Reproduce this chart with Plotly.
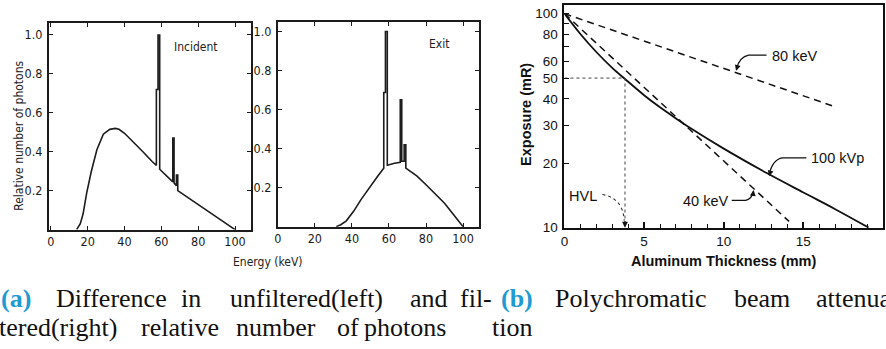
import plotly.graph_objects as go

# ---------------- data ----------------
energy_incident = [14, 16, 17.5, 19.5, 22, 25, 28.5, 32, 35, 37, 40, 45, 50, 55, 57.3,
                   57.3, 58.2, 58.2, 59.1, 59.1, 62, 66.2, 66.2, 66.9, 66.9, 68.2, 68.2,
                   68.9, 68.9, 75, 80, 85, 90, 95, 100]
rel_incident = [0, 0.03, 0.08, 0.19, 0.30, 0.41, 0.49, 0.515, 0.52, 0.515, 0.495, 0.45, 0.40, 0.35, 0.33,
                0.72, 0.72, 1.0, 1.0, 0.31, 0.285, 0.245, 0.47, 0.47, 0.24, 0.225, 0.28,
                0.28, 0.20, 0.16, 0.128, 0.095, 0.063, 0.031, 0]

energy_exit = [31.5, 34, 37, 41, 45, 50, 54, 57.2, 57.2, 58.1, 58.1, 59.1, 59.1, 63, 66.1,
               66.1, 66.9, 66.9, 68.2, 68.2, 69.1, 69.1, 75, 80, 85, 90, 95, 100]
rel_exit = [0, 0.01, 0.03, 0.08, 0.14, 0.21, 0.26, 0.30, 0.687, 0.687, 1.0, 1.0, 0.315, 0.325, 0.33,
            0.65, 0.65, 0.335, 0.335, 0.42, 0.42, 0.30, 0.26, 0.215, 0.17, 0.12, 0.06, 0]

spectrum_xticks = [0, 20, 40, 60, 80, 100]
spectrum_yticks = [0.2, 0.4, 0.6, 0.8, 1.0]

thickness_100kvp = [0, 1, 2, 3, 3.8, 5, 6, 7, 8, 10, 12.7, 15, 17, 19.1]
exposure_100kvp = [100, 80.3, 66.2, 55.8, 49.5, 41.6, 36.5, 32.4, 28.9, 23.4, 18.0, 14.6, 12.2, 10.0]
thickness_40kev = [0, 14.1]
exposure_40kev = [100, 10.7]
thickness_80kev = [0, 17.1]
exposure_80kev = [100, 36.5]
hvl_mm = 3.8
half_exposure = 50
exposure_ticks = [10, 20, 30, 40, 50, 60, 70, 80, 90, 100]
exposure_ticktext = ["10", "20", "30", "40", "50", "60", "", "80", "", "100"]
thickness_ticks = [0, 5, 10, 15, 20]

# ---------------- helpers ----------------
W, H = 886, 349
def px(x):
    return x / W
def py(y):
    return 1 - y / H

INK = "#1c1c1c"
SCAN_FONT = "Liberation Sans Narrow, DejaVu Sans Condensed, sans-serif"
ARIAL = "Liberation Sans, Arial, sans-serif"
SERIF = "Liberation Serif, Times New Roman, serif"
BLUE = "#1f9ad3"

fig = go.Figure()

fig.add_trace(go.Scatter(x=energy_incident, y=rel_incident, mode="lines",
                         line=dict(color=INK, width=1.6), xaxis="x", yaxis="y",
                         showlegend=False, hoverinfo="skip"))
fig.add_trace(go.Scatter(x=energy_exit, y=rel_exit, mode="lines",
                         line=dict(color=INK, width=1.6), xaxis="x2", yaxis="y2",
                         showlegend=False, hoverinfo="skip"))
fig.add_trace(go.Scatter(x=thickness_100kvp, y=exposure_100kvp, mode="lines",
                         line=dict(color="#111", width=1.8, shape="spline"),
                         xaxis="x3", yaxis="y3", showlegend=False, hoverinfo="skip"))
fig.add_trace(go.Scatter(x=thickness_40kev, y=exposure_40kev, mode="lines",
                         line=dict(color="#111", width=1.5, dash="7px,5px"),
                         xaxis="x3", yaxis="y3", showlegend=False, hoverinfo="skip"))
fig.add_trace(go.Scatter(x=thickness_80kev, y=exposure_80kev, mode="lines",
                         line=dict(color="#111", width=1.5, dash="7px,5px"),
                         xaxis="x3", yaxis="y3", showlegend=False, hoverinfo="skip"))
# HVL guide lines
fig.add_trace(go.Scatter(x=[0, hvl_mm, hvl_mm], y=[half_exposure, half_exposure, 10.4], mode="lines",
                         line=dict(color="#444", width=1, dash="dot"),
                         xaxis="x3", yaxis="y3", showlegend=False, hoverinfo="skip"))

spec_axis = dict(showline=True, linecolor=INK, linewidth=1.6, mirror="allticks",
                 ticks="inside", ticklen=4, tickcolor=INK, tickwidth=1.2,
                 showgrid=False, zeroline=False,
                 tickfont=dict(family=SCAN_FONT, size=12.5, color="#1a1a1a"))

fig.update_layout(
    width=W, height=H, autosize=False,
    margin=dict(l=0, r=0, t=0, b=0),
    paper_bgcolor="white", plot_bgcolor="white",
    xaxis=dict(domain=[px(45), px(248)], range=[-1.1, 108.6], anchor="y",
               tickvals=spectrum_xticks, **spec_axis),
    yaxis=dict(domain=[py(235), py(24)], range=[0, 1.059], anchor="x",
               tickvals=spectrum_yticks, tickformat=".1f", ticklabelstandoff=2, **spec_axis),
    xaxis2=dict(domain=[px(275), px(477)], range=[0, 108.5], anchor="y2",
                tickvals=spectrum_xticks, **spec_axis),
    yaxis2=dict(domain=[py(232), py(23)], range=[0, 1.046], anchor="x2",
                tickvals=spectrum_yticks, tickformat=".1f", ticklabelstandoff=2, **spec_axis),
    xaxis3=dict(domain=[px(563), px(883)], range=[0, 20], anchor="y3",
                tickvals=thickness_ticks, showline=True, linecolor="#111", linewidth=2,
                mirror=True, ticks="inside", ticklen=6, tickcolor="#111", tickwidth=1.5,
                minor=dict(dtick=1, ticks="inside", ticklen=4, tickcolor="#111", tickwidth=1.2),
                showgrid=False, zeroline=False,
                tickfont=dict(family=ARIAL, size=13.5, color="#111")),
    yaxis3=dict(domain=[py(233), py(5)], type="log", range=[1, 2.041], anchor="x3",
                tickvals=exposure_ticks, ticktext=exposure_ticktext,
                showline=True, linecolor="#111", linewidth=2, mirror=True,
                ticks="inside", ticklen=5, tickcolor="#111", tickwidth=1.2,
                showgrid=False, zeroline=False, ticklabelstandoff=2,
                tickfont=dict(family=ARIAL, size=13.5, color="#111")),
)

ann = []
def text(x, y, s, font, size, color="#111", xanchor="center", angle=0, yanchor="middle"):
    ann.append(dict(x=px(x), y=py(y), xref="paper", yref="paper", text=s, showarrow=False,
                    xanchor=xanchor, yanchor=yanchor, textangle=angle,
                    font=dict(family=font, size=size, color=color)))

# spectrum labels
text(15, 139, "Relative number of photons", SCAN_FONT, 12, "#222", angle=-90)
text(193, 48, "Incident", SCAN_FONT, 12, "#222")
text(437, 45, "Exit", SCAN_FONT, 12, "#222")
text(265, 268, "Energy (keV)", SCAN_FONT, 12, "#222")

# attenuation labels
text(525, 117, "<b>Exposure (mR)</b>", ARIAL, 14.5, angle=-90)
text(723, 267, "<b>Aluminum Thickness (mm)</b>", ARIAL, 14.5)
text(769, 57, "80 keV", ARIAL, 14.5, xanchor="left")
text(809, 162, "100 kVp", ARIAL, 14.5, xanchor="left")
text(729, 206, "40 keV", ARIAL, 14.5, xanchor="right")
text(598, 201, "HVL", ARIAL, 14.5, xanchor="right")

# arrowheads for leader lines
def arrowhead(x, y, dx, dy):
    ann.append(dict(x=px(x), y=py(y), xref="paper", yref="paper", text="",
                    showarrow=True, ax=dx, ay=dy, arrowhead=2, arrowsize=0.9,
                    arrowwidth=1.3, arrowcolor="#111"))

arrowhead(735.5, 72.5, 2, -7)
arrowhead(768.5, 180.5, 2, -7)
arrowhead(753, 194.5, -1, 7)
arrowhead(623.8, 233, 0, -8)

# captions (justified word placement)
line1 = [(-5, "<b>(a)</b>", BLUE), (50, "Difference", "#111"), (176, "in", "#111"),
         (225, "unfiltered(left)", "#111"), (406, "and", "#111"), (456, "fil-", "#111"),
         (497, "<b>(b)</b>", BLUE), (551, "Polychromatic", "#111"), (731, "beam", "#111"),
         (814, "attenuation", "#111")]
line2 = [(-7, "tered(right)", "#111"), (136, "relative", "#111"), (231, "number", "#111"),
         (333, "of", "#111"), (360, "photons", "#111"), (488, "tion", "#111")]
for x, s, c in line1:
    text(x, 306, s, SERIF, 26, c, xanchor="left")
for x, s, c in line2:
    text(x, 335, s, SERIF, 26, c, xanchor="left")

fig.update_layout(annotations=ann)

# curved leader lines (paper coordinates)
def path(points_str):
    fig.add_shape(type="path", xref="paper", yref="paper", path=points_str,
                  line=dict(color="#111", width=1.3))

def P(x, y):
    return f"{px(x):.5f},{py(y):.5f}"

path(f"M {P(766,56.5)} L {P(748,56.5)} Q {P(739,58)} {P(735.5,71)}")
path(f"M {P(806,161.5)} L {P(782,161.5)} Q {P(772,163)} {P(768.5,179)}")
path(f"M {P(731,205)} L {P(745,205)} Q {P(751,204)} {P(753,196)}")
fig.add_shape(type="path", xref="paper", yref="paper",
              path=f"M {P(601,199)} Q {P(622,203)} {P(623,226)}",
              line=dict(color="#333", width=1.1, dash="dot"))

fig.write_html("out.html", config={"displayModeBar": False},
               post_script="document.body.style.margin='0';document.body.style.overflow='hidden';")
